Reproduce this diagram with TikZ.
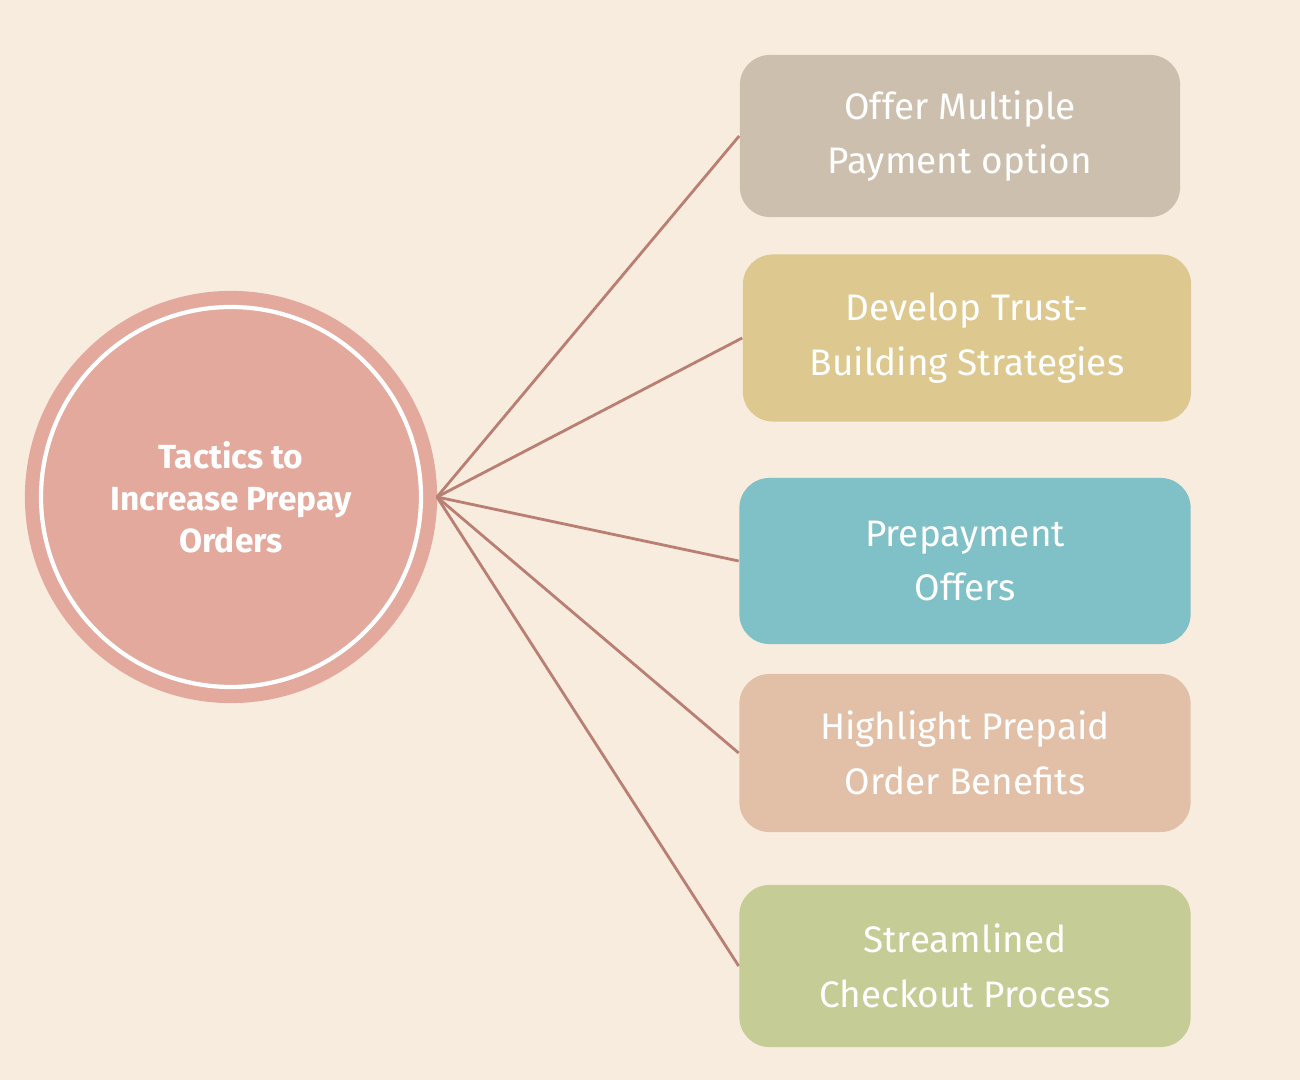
\documentclass[tikz,border=0pt]{standalone}
\usepackage{fontspec}
\setmainfont{Fira Sans}
\definecolor{bgcol}{HTML}{F8ECDF}
\definecolor{hubcol}{HTML}{E2A99C}
\definecolor{linkcol}{HTML}{B97F72}
\definecolor{boxa}{HTML}{CDBFAD}
\definecolor{boxb}{HTML}{DDC88F}
\definecolor{boxc}{HTML}{7FC1C6}
\definecolor{boxd}{HTML}{E2C0A8}
\definecolor{boxe}{HTML}{C5CC95}
\begin{document}
\begin{tikzpicture}[x=0.01cm, y=-0.01cm,
    tactic/.style={rounded corners=0.3cm, minimum width=4.5cm, minimum height=1.64cm,
        align=center, text=white, font=\fontsize{10.5}{15.5}\selectfont, inner sep=0pt},
    link/.style={linkcol, line width=0.8pt}]

    % Background
    \fill[bgcol] (0,0) rectangle (1300,1080);
    \useasboundingbox (0,0) rectangle (1300,1080);

    % Central hub
    \node[circle, fill=hubcol, minimum size=4.12cm, inner sep=0pt] (hub) at (231,497) {};
    \draw[white, line width=1.2pt] (hub.center) circle (190);
    \node[text=white, align=center, font=\bfseries\fontsize{9.5}{12}\selectfont] (title) at (231,497)
        {Tactics to\\Increase Prepay\\Orders};

    % Tactic boxes
    \node[tactic, fill=boxa, minimum width=4.4cm, minimum height=1.62cm] (offer) at (960,136) {Offer Multiple\\Payment option};
    \node[tactic, fill=boxb, minimum width=4.48cm, minimum height=1.67cm] (trust) at (967,338) {Develop Trust-\\Building Strategies};
    \node[tactic, fill=boxc, minimum width=4.51cm, minimum height=1.66cm] (prepay) at (965,561) {Prepayment\\Offers};
    \node[tactic, fill=boxd, minimum width=4.51cm, minimum height=1.58cm] (benefit) at (965,753) {Highlight Prepaid\\Order Benefits};
    \node[tactic, fill=boxe, minimum width=4.51cm, minimum height=1.62cm] (checkout) at (965,966) {Streamlined\\Checkout Process};

    % Connectors
    \coordinate (hub-e) at (437,497);
    \foreach \t in {offer, trust, prepay, benefit, checkout}
        \draw[link] (hub-e) -- (\t.west);

\end{tikzpicture}
\end{document}
